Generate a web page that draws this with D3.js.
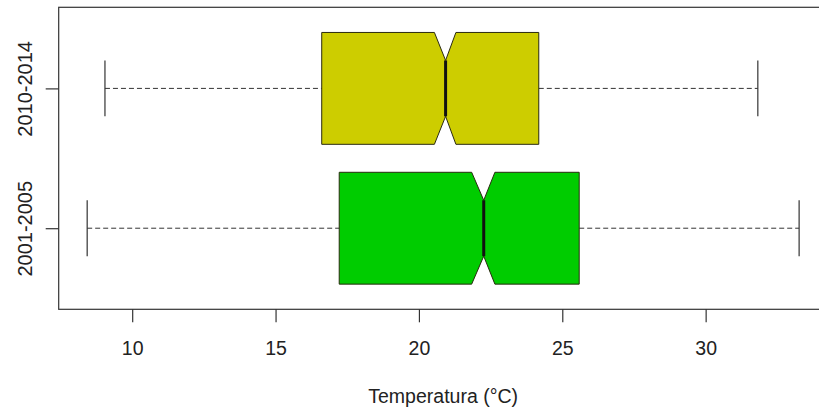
<!DOCTYPE html>
<html>
<head>
<meta charset="utf-8">
<script src="https://cdn.jsdelivr.net/npm/d3@7"></script>
<style>
  html, body { margin: 0; padding: 0; background: #fff; }
  svg { display: block; }
  text { font-family: "Liberation Sans", Arial, Helvetica, sans-serif; fill: #222; }
</style>
</head>
<body>
<svg id="chart" width="819" height="413"></svg>
<script>
// ---- data ----
const categories  = ["2001-2005", "2010-2014"];
const colors      = ["#00cc00", "#cdcd00"];
const whiskerLow  = [8.43, 9.05];
const q1          = [17.22, 16.61];
const median      = [22.26, 20.93];
const q3          = [25.59, 24.18];
const whiskerHigh = [33.26, 31.82];
const notchLow    = [21.84, 20.54];
const notchHigh   = [22.65, 21.29];
const xTicks      = [10, 15, 20, 25, 30];
const xTitle      = "Temperatura (°C)";

// ---- layout ----
const plotL = 58.7, plotR = 827.6, plotT = 7.3, plotB = 309.3;
const svg = d3.select("#chart");

const lo = d3.min(whiskerLow), hi = d3.max(whiskerHigh);
const ext = (hi - lo) * 0.04;
const x = d3.scaleLinear().domain([lo - ext, hi + ext]).range([plotL, plotR]);
const n = categories.length;
const yext = n * 0.04;
const y = d3.scaleLinear().domain([0.5 - yext, n + 0.5 + yext]).range([plotB, plotT]);
const halfW = Math.abs(y(0.4) - y(0));

const lineCol = "#333";

const data = categories.map((c, i) => ({
  c, i, pos: i + 1, col: colors[i],
  wl: whiskerLow[i], q1: q1[i], med: median[i], q3: q3[i], wh: whiskerHigh[i],
  nl: notchLow[i], nh: notchHigh[i]
}));

const g = svg.append("g");

data.forEach(d => {
  const cy = y(d.pos);
  g.append("line").attr("x1", x(d.wl)).attr("x2", x(d.q1)).attr("y1", cy).attr("y2", cy)
    .attr("stroke", lineCol).attr("stroke-width", 1).attr("stroke-dasharray", "5,3");
  g.append("line").attr("x1", x(d.q3)).attr("x2", x(d.wh)).attr("y1", cy).attr("y2", cy)
    .attr("stroke", lineCol).attr("stroke-width", 1).attr("stroke-dasharray", "5,3");
  [d.wl, d.wh].forEach(v => {
    g.append("line").attr("x1", x(v)).attr("x2", x(v))
      .attr("y1", cy - halfW / 2).attr("y2", cy + halfW / 2)
      .attr("stroke", lineCol).attr("stroke-width", 1.2);
  });
  const pts = [
    [x(d.q1), cy - halfW], [x(d.nl), cy - halfW], [x(d.med), cy - halfW / 2],
    [x(d.nh), cy - halfW], [x(d.q3), cy - halfW], [x(d.q3), cy + halfW],
    [x(d.nh), cy + halfW], [x(d.med), cy + halfW / 2], [x(d.nl), cy + halfW],
    [x(d.q1), cy + halfW]
  ];
  g.append("polygon").attr("points", pts.map(p => p.join(",")).join(" "))
    .attr("fill", d.col).attr("stroke", "#2a2a10").attr("stroke-width", 1);
  g.append("line").attr("x1", x(d.med)).attr("x2", x(d.med))
    .attr("y1", cy - halfW / 2).attr("y2", cy + halfW / 2)
    .attr("stroke", "#111").attr("stroke-width", 3);
});

svg.append("rect").attr("x", plotL).attr("y", plotT)
  .attr("width", plotR - plotL).attr("height", plotB - plotT)
  .attr("fill", "none").attr("stroke", lineCol).attr("stroke-width", 1.2);

const xAxis = svg.append("g").attr("transform", `translate(0,${plotB})`)
  .call(d3.axisBottom(x).tickValues(xTicks).tickFormat(d3.format("d")).tickSize(13).tickPadding(19));
xAxis.select(".domain").remove();
xAxis.selectAll(".tick line").attr("stroke", lineCol).attr("stroke-width", 1.2);
xAxis.selectAll(".tick text").style("font-size", "19.5px").attr("fill", "#222")
  .style("font-family", '"Liberation Sans", Arial, sans-serif');

const yAxis = svg.append("g").attr("transform", `translate(${plotL},0)`)
  .call(d3.axisLeft(y).tickValues(data.map(d => d.pos)).tickFormat((v) => categories[v - 1]).tickSize(13));
yAxis.select(".domain").remove();
yAxis.selectAll(".tick line").attr("stroke", lineCol).attr("stroke-width", 1.2);
yAxis.selectAll(".tick text")
  .attr("x", 0).attr("dy", 0)
  .attr("transform", `translate(${31.5 - plotL},0) rotate(-90)`)
  .attr("text-anchor", "middle")
  .attr("fill", "#222")
  .style("font-size", "20px")
  .style("font-family", '"Liberation Sans", Arial, sans-serif');

svg.append("text").attr("x", (plotL + plotR) / 2).attr("y", 403)
  .attr("text-anchor", "middle").style("font-size", "19.5px").text(xTitle);
</script>
</body>
</html>
